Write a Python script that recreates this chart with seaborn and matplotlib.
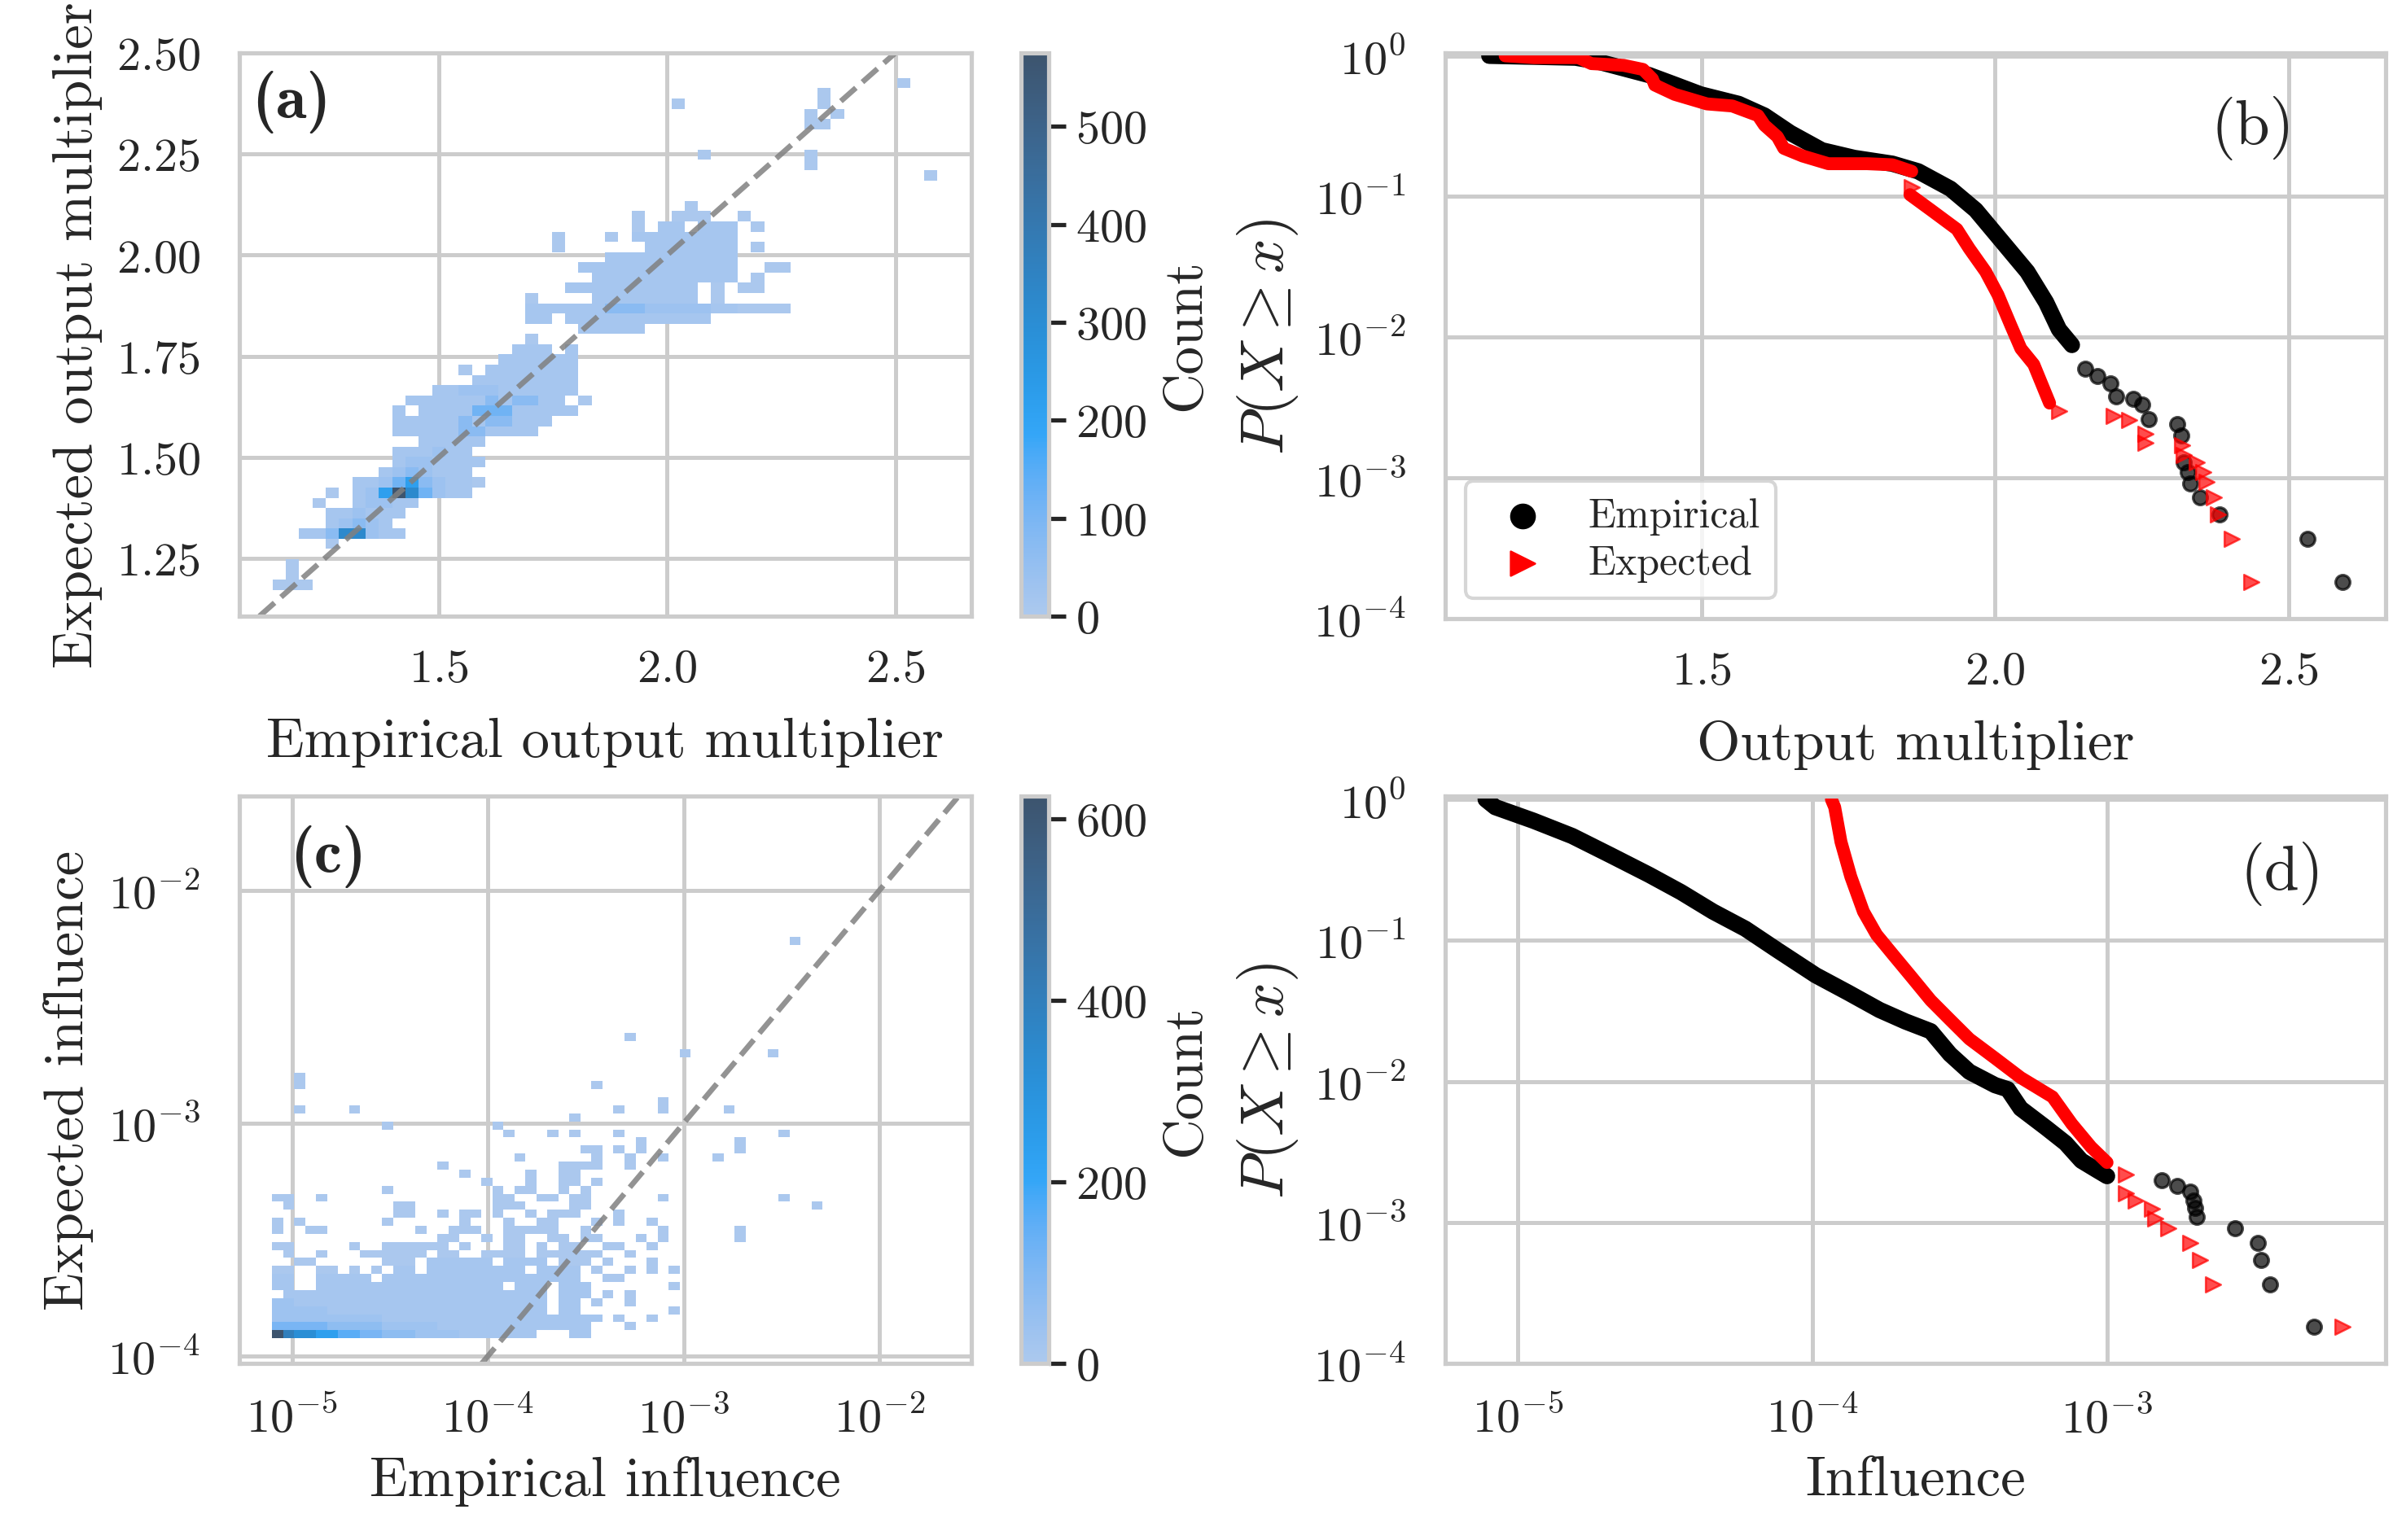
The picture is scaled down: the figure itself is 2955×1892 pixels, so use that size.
import numpy as np
import seaborn as sns
import matplotlib.pyplot as plt
from matplotlib.ticker import MultipleLocator

# ---------------- (a) 2d histogram of output multipliers ----------------
# bins: 50 x 50, counts coded per cell
a_x_start, a_x_step = 1.1364, 0.0291
a_y_start, a_y_step = 1.1727, 0.0253
a_nbins = 50
a_levels = {"a": 4, "b": 15, "c": 35, "d": 70, "e": 115, "g": 220, "h": 320, "M": 575}
# (row, first column, codes of consecutive cells)
a_runs = [
    (0, 0, "aaa"), (1, 1, "a"), (2, 1, "a"), (4, 4, "a"),
    (5, 2, "bbdhhcbb"), (6, 4, "bcdcb"), (7, 4, "bbcbbb"),
    (8, 3, "a"), (8, 6, "bccbb"),
    (9, 4, "a"), (9, 6, "bcgMhecbb"),
    (10, 6, "bbcegdcbba"), (11, 8, "bcdcbbb"), (12, 9, "bccbbbb"),
    (13, 9, "bbbcbb"), (14, 11, "bbbbb"), (15, 9, "bbbbbddbbbb"),
    (16, 9, "bbbbbdbddbbb"), (17, 9, "b"), (17, 11, "bbbbeeebbbbb"),
    (18, 10, "bbbbbbdbddbb"), (18, 23, "a"), (19, 12, "bbcccbbbbbb"),
    (20, 15, "bbbbbbbb"), (21, 14, "a"), (21, 16, "bbbbbbb"),
    (22, 17, "bbbbbb"), (23, 18, "bbb"), (23, 22, "b"), (24, 19, "a"),
    (25, 23, "bbbbb"), (26, 19, "bb"), (26, 22, "bbbbbbbbbbb"),
    (27, 19, "bbbbbbdddcccccbbaaaa"),
    (28, 19, "a"), (28, 24, "bbbbbbbb"), (28, 33, "a"),
    (29, 22, "bbbbbbbbbb"), (29, 33, "a"), (29, 35, "aa"),
    (30, 24, "bbbbbbbbbbb"), (30, 36, "a"),
    (31, 23, "bbbbbbbbbbbb"), (31, 37, "aa"),
    (32, 25, "bbbbbbbbbb"),
    (33, 21, "a"), (33, 28, "bbbbbbb"), (33, 36, "a"),
    (34, 21, "a"), (34, 25, "a"), (34, 27, "bbbbbbbb"),
    (35, 27, "a"), (35, 29, "bb"), (35, 32, "bbb"), (35, 36, "a"),
    (36, 27, "a"), (36, 30, "aaa"), (36, 35, "a"),
    (37, 31, "a"), (40, 49, "a"), (41, 40, "a"), (42, 32, "a"), (42, 40, "a"),
    (45, 40, "aa"), (46, 40, "a"), (46, 42, "a"), (47, 30, "a"), (47, 41, "a"),
    (48, 41, "a"), (49, 47, "a"),
]

# ---------------- (c) 2d histogram of influence (log10 bins) ----------------
c_x_start, c_x_step = -5.103, 0.05626
c_y_start, c_y_step = -3.924, 0.0345
c_nbins = 50
c_levels = {"a": 3, "b": 15, "c": 35, "d": 70, "e": 110, "f": 160, "g": 235,
            "h": 320, "i": 400, "M": 625}
c_runs = [
    (0, 0, "Mihhggffeedddccccbbbbbbb"), (0, 27, "bb"),
    (1, 0, "eeeeedddddcccccbbbbbbbbbbbbbb"), (1, 32, "a"),
    (2, 0, "ccccccccccbbbbbbbbbbbbbbbbbbbb"), (2, 31, "a"), (2, 34, "a"),
    (3, 0, "cccccbbbbbbbbbbbbbbbbbbbb"), (3, 26, "bb"), (3, 36, "a"),
    (4, 0, "ccbbbbbbbbbbbbbbbbbbbbbbb"), (4, 26, "bb"), (4, 29, "a"), (4, 32, "a"),
    (5, 1, "bbbbbbbbbbbbbbbbbbbbbbbb"), (5, 26, "bbb"), (5, 30, "a"), (5, 32, "a"),
    (6, 0, "bb"), (6, 4, "bbbbbbbbbbbbbbbbb"), (6, 22, "bbb"), (6, 26, "bbb"), (6, 36, "a"),
    (7, 0, "bb"), (7, 4, "bbbbb"), (7, 10, "bbbbbbbbbbbbbbbbbb"), (7, 30, "aa"),
    (8, 0, "aa"), (8, 4, "aa"), (8, 7, "a"), (8, 9, "a"), (8, 11, "bb"),
    (8, 14, "bbbbbbbbb"), (8, 24, "bbbb"), (8, 29, "a"), (8, 32, "a"), (8, 34, "a"), (8, 36, "a"),
    (9, 2, "aa"), (9, 10, "aaa"), (9, 14, "bbbbbb"), (9, 21, "bbbb"), (9, 26, "aaa"),
    (9, 30, "a"), (9, 34, "a"),
    (10, 1, "a"), (10, 4, "a"), (10, 8, "aaaaaa"), (10, 15, "aa"), (10, 19, "aaaa"),
    (10, 24, "aaaaaa"), (10, 32, "a"),
    (11, 0, "aa"), (11, 7, "a"), (11, 10, "aaaaaa"), (11, 17, "a"), (11, 21, "aa"),
    (11, 24, "a"), (11, 26, "aa"), (11, 30, "aa"), (11, 34, "a"),
    (12, 15, "aa"), (12, 19, "a"), (12, 21, "aa"), (12, 25, "aa"), (12, 28, "aa"),
    (12, 33, "a"), (12, 35, "a"), (12, 42, "a"),
    (13, 0, "a"), (13, 3, "aa"), (13, 13, "a"), (13, 16, "aaa"), (13, 21, "aaaaa"),
    (13, 28, "a"), (13, 35, "a"), (13, 42, "a"),
    (14, 0, "a"), (14, 2, "a"), (14, 10, "a"), (14, 17, "a"), (14, 21, "a"),
    (14, 24, "aa"), (14, 29, "a"), (14, 31, "a"), (14, 34, "a"),
    (15, 11, "aa"), (15, 15, "a"), (15, 17, "aa"), (15, 20, "a"), (15, 23, "a"),
    (15, 25, "aaa"), (15, 31, "a"),
    (16, 1, "a"), (16, 11, "aa"), (16, 20, "aaa"), (16, 27, "aa"), (16, 49, "a"),
    (17, 0, "aa"), (17, 4, "a"), (17, 20, "aa"), (17, 24, "aa"), (17, 27, "aa"),
    (17, 35, "a"), (17, 46, "a"),
    (18, 10, "a"), (18, 20, "a"), (18, 22, "aa"), (18, 26, "a"), (18, 28, "a"),
    (19, 19, "a"), (19, 23, "a"), (19, 26, "aa"), (19, 29, "a"),
    (20, 17, "a"), (20, 23, "a"), (20, 26, "aa"),
    (21, 15, "a"), (21, 26, "aaaa"), (21, 32, "a"),
    (22, 22, "a"), (22, 29, "a"), (22, 32, "a"), (22, 35, "a"), (22, 40, "a"),
    (23, 28, "aa"), (23, 31, "a"), (23, 33, "a"), (23, 42, "a"),
    (24, 33, "a"), (24, 42, "a"),
    (25, 21, "a"), (25, 25, "a"), (25, 27, "a"), (25, 31, "a"), (25, 46, "a"),
    (26, 10, "a"), (26, 20, "a"), (27, 27, "a"),
    (28, 2, "a"), (28, 7, "a"), (28, 31, "a"), (28, 35, "a"), (28, 41, "a"),
    (29, 35, "a"), (31, 2, "a"), (31, 29, "a"), (32, 2, "a"),
    (35, 37, "a"), (35, 45, "a"), (37, 32, "a"), (49, 47, "a"),
]

# ---------------- (b) CCDF of output multiplier ----------------
b_emp_x = [1.138, 1.285, 1.323, 1.41, 1.454, 1.498, 1.563, 1.607, 1.651, 1.705,
           1.760, 1.825, 1.869, 1.924, 1.967, 2.011, 2.055, 2.087, 2.109, 2.131]
b_emp_p = [1.0, 0.97, 0.91, 0.73, 0.624, 0.532, 0.455, 0.376, 0.283, 0.213,
           0.188, 0.171, 0.151, 0.1135, 0.0802, 0.0484, 0.0292, 0.0177, 0.01135, 0.0088]
b_emp_tail_x = [2.153, 2.175, 2.197, 2.207, 2.235, 2.251, 2.262, 2.311, 2.317, 2.322,
                2.328, 2.333, 2.349, 2.382, 2.532, 2.592]
b_emp_tail_p = [0.0060, 0.0053, 0.0047, 0.0038, 0.00365, 0.0033, 0.0026, 0.00242, 0.0020,
                0.00129, 0.0011, 0.00091, 0.00073, 0.00055, 0.00037, 0.000182]

b_exp_x1 = [1.165, 1.214, 1.29, 1.312, 1.367, 1.40, 1.416, 1.42, 1.454, 1.509,
            1.552, 1.596, 1.607, 1.629, 1.64, 1.672, 1.716, 1.782, 1.825, 1.858]
b_exp_p1 = [1.0, 0.97, 0.97, 0.88, 0.855, 0.80, 0.685, 0.62, 0.532, 0.455,
            0.44, 0.376, 0.321, 0.266, 0.22, 0.194, 0.171, 0.171, 0.168, 0.151]
b_exp_x2 = [1.855, 1.891, 1.935, 1.956, 1.984, 2.005, 2.027, 2.044, 2.066, 2.082, 2.093]
b_exp_p2 = [0.103, 0.080, 0.0585, 0.0427, 0.0292, 0.020, 0.0121, 0.0083, 0.0064, 0.0044, 0.0034]
b_exp_tail_x = [1.858, 2.109, 2.202, 2.229, 2.257, 2.257, 2.319, 2.322, 2.344, 2.355,
                2.36, 2.373, 2.38, 2.404, 2.437]
b_exp_tail_p = [0.117, 0.0030, 0.00274, 0.00258, 0.00207, 0.00177, 0.00171, 0.00146,
                0.00129, 0.0011, 0.00094, 0.00073, 0.00055, 0.00037, 0.000182]

# ---------------- (d) CCDF of influence ----------------
d_emp_x = [7.78e-6, 8.39e-6, 1.13e-5, 1.53e-5, 2.07e-5, 2.79e-5, 3.58e-5, 4.60e-5, 5.92e-5,
           7.59e-5, 1.026e-4, 1.32e-4, 1.69e-4, 2.07e-4, 2.52e-4, 2.93e-4, 3.41e-4, 4.17e-4,
           4.60e-4, 5.09e-4, 6.21e-4, 7.23e-4, 8.18e-4, 9.27e-4, 1.0e-3]
d_emp_p = [1.0, 0.881, 0.706, 0.55, 0.401, 0.292, 0.22, 0.160, 0.121, 0.0855, 0.0566,
           0.0427, 0.0321, 0.0266, 0.0227, 0.0156, 0.0117, 0.0094, 0.0088, 0.00643,
           0.00469, 0.00365, 0.00274, 0.00234, 0.00213]
d_emp_tail_x = [1.53e-3, 1.73e-3, 1.92e-3, 1.96e-3, 1.99e-3, 2.01e-3, 2.72e-3, 3.24e-3,
                3.33e-3, 3.58e-3, 5.04e-3]
d_emp_tail_p = [0.0020, 0.00182, 0.00166, 0.00142, 0.00126, 0.0011, 0.00091, 0.00072,
                0.00054, 0.000365, 0.000182]

d_exp_x = [1.16e-4, 1.19e-4, 1.25e-4, 1.35e-4, 1.49e-4, 1.65e-4, 1.87e-4, 2.17e-4, 2.52e-4,
           2.93e-4, 3.41e-4, 4.17e-4, 5.09e-4, 6.53e-4, 7.59e-4, 8.83e-4, 1.0e-3]
d_exp_p = [1.0, 0.881, 0.5, 0.283, 0.160, 0.11, 0.080, 0.055, 0.0376, 0.0274, 0.020,
           0.0146, 0.01064, 0.00776, 0.0050, 0.00342, 0.00266]
d_exp_tail_x = [1.16e-3, 1.16e-3, 1.25e-3, 1.42e-3, 1.46e-3, 1.61e-3, 1.92e-3, 2.07e-3,
                2.29e-3, 6.28e-3]
d_exp_tail_p = [0.0022, 0.0016, 0.00142, 0.00125, 0.00106, 0.00091, 0.00072, 0.00054,
                0.000365, 0.000182]


def expand_runs(runs, levels):
    cols, rows, counts = [], [], []
    for row, col0, codes in runs:
        for k, ch in enumerate(codes):
            cols.append(col0 + k)
            rows.append(row)
            counts.append(levels[ch])
    return np.array(cols), np.array(rows), np.array(counts, dtype=float)


sns.set_theme(style="whitegrid")
plt.rcParams.update({
    "font.family": "serif",
    "font.serif": ["cmr10"],
    "mathtext.fontset": "cm",
    "axes.formatter.use_mathtext": True,
    "axes.unicode_minus": False,
    "xtick.labelsize": 14,
    "ytick.labelsize": 14,
    "axes.labelsize": 16.5,
    "legend.fontsize": 12,
    "grid.linewidth": 1.2,
})
plt.rcParams["ytick.major.pad"] += 2

fig = plt.figure(figsize=(9.85, 6.31), dpi=300)
ax_a = fig.add_axes([0.0995, 0.5996, 0.3042, 0.3656])
cax_a = fig.add_axes([0.4244, 0.5996, 0.0115, 0.3656])
ax_b = fig.add_axes([0.6007, 0.5980, 0.3909, 0.3672])
ax_c = fig.add_axes([0.0995, 0.1146, 0.3042, 0.3680])
cax_c = fig.add_axes([0.4244, 0.1146, 0.0115, 0.3680])
ax_d = fig.add_axes([0.6007, 0.1146, 0.3909, 0.3680])

hist_color = "#1f77b4"
panel_size = 18.5

# ---- (a)
ci, ri, na = expand_runs(a_runs, a_levels)
a_xc = a_x_start + (ci + 0.5) * a_x_step
a_yc = a_y_start + (ri + 0.5) * a_y_step
sns.histplot(x=a_xc, y=a_yc, weights=na, ax=ax_a, color=hist_color,
             binwidth=(a_x_step, a_y_step),
             binrange=((a_x_start, a_x_start + a_nbins * a_x_step),
                       (a_y_start, a_y_start + a_nbins * a_y_step)),
             cbar=True, cbar_ax=cax_a, cbar_kws={"label": "Count"},
             vmin=0, vmax=a_levels["M"])
ax_a.set_xlim(1.064, 2.666)
ax_a.set_ylim(1.108, 2.50)
ax_a.axline((1.5, 1.5), (2.0, 2.0), ls="--", color="0.5", lw=1.6, alpha=0.85)
ax_a.xaxis.set_major_locator(MultipleLocator(0.5))
ax_a.yaxis.set_major_locator(MultipleLocator(0.25))
ax_a.set_xlabel("Empirical output multiplier", labelpad=8)
ax_a.set_ylabel("Expected output multiplier")
ax_a.text(0.017, 0.97, "(a)", transform=ax_a.transAxes, ha="left", va="top",
          fontsize=panel_size, family="cmb10")
cax_a.yaxis.set_major_locator(MultipleLocator(100))

# ---- (c)
ci, ri, nc = expand_runs(c_runs, c_levels)
c_xc = 10 ** (c_x_start + (ci + 0.5) * c_x_step)
c_yc = 10 ** (c_y_start + (ri + 0.5) * c_y_step)
sns.histplot(x=c_xc, y=c_yc, weights=nc, ax=ax_c, color=hist_color, log_scale=True,
             binwidth=(c_x_step, c_y_step),
             binrange=((c_x_start, c_x_start + c_nbins * c_x_step),
                       (c_y_start, c_y_start + c_nbins * c_y_step)),
             cbar=True, cbar_ax=cax_c, cbar_kws={"label": "Count"},
             vmin=0, vmax=c_levels["M"])
ax_c.set_xlim(10 ** -5.27, 10 ** -1.531)
ax_c.set_ylim(10 ** -4.032, 10 ** -1.597)
ax_c.axline((1e-4, 1e-4), (1e-3, 1e-3), ls="--", color="0.5", lw=1.6, alpha=0.85)
ax_c.set_xlabel("Empirical influence")
ax_c.set_ylabel("Expected influence")
ax_c.text(0.069, 0.95, "(c)", transform=ax_c.transAxes, ha="left", va="top",
          fontsize=panel_size, family="cmb10")
cax_c.yaxis.set_major_locator(MultipleLocator(200))

for cax in (cax_a, cax_c):
    cax.tick_params(pad=3, length=5)


# ---- (b) and (d)
def ccdf_panel(ax, emp, emp_tail, exp_segs, exp_tail):
    ax.set_yscale("log")
    sns.lineplot(x=emp[0], y=emp[1], ax=ax, color="black", lw=4.8,
                 sort=False, estimator=None)
    for seg in exp_segs:
        sns.lineplot(x=seg[0], y=seg[1], ax=ax, color="red", lw=3.8,
                     sort=False, estimator=None)
    sns.scatterplot(x=emp_tail[0], y=emp_tail[1], ax=ax, color="black", marker="o",
                    s=18, alpha=0.7, edgecolor="black", linewidth=0.8, label="Empirical")
    sns.scatterplot(x=exp_tail[0], y=exp_tail[1], ax=ax, color="red", marker=">",
                    s=20, alpha=0.7, edgecolor="red", linewidth=0.6, label="Expected")
    ax.set_ylim(1e-4, 1.05)
    ax.set_ylabel(r"$P(X \geq x)$", fontsize=18)


ccdf_panel(ax_b, (b_emp_x, b_emp_p), (b_emp_tail_x, b_emp_tail_p),
           [(b_exp_x1, b_exp_p1), (b_exp_x2, b_exp_p2)], (b_exp_tail_x, b_exp_tail_p))
ax_b.set_xlim(1.063, 2.666)
ax_b.xaxis.set_major_locator(MultipleLocator(0.5))
ax_b.set_xlabel("Output multiplier", labelpad=8)
ax_b.text(0.903, 0.925, "(b)", transform=ax_b.transAxes, ha="right", va="top",
          fontsize=panel_size)
leg = ax_b.legend(loc="lower left", markerscale=1.6, labelspacing=0.25, handletextpad=0.6)
for h in leg.legend_handles:
    h.set_alpha(1)

ccdf_panel(ax_d, (d_emp_x, d_emp_p), (d_emp_tail_x, d_emp_tail_p),
           [(d_exp_x, d_exp_p)], (d_exp_tail_x, d_exp_tail_p))
ax_d.set_xscale("log")
ax_d.set_xlim(10 ** -5.246, 10 ** -2.054)
ax_d.set_xlabel("Influence")
ax_d.text(0.934, 0.922, "(d)", transform=ax_d.transAxes, ha="right", va="top",
          fontsize=panel_size)
ax_d.get_legend().remove()

fig.savefig("out.png", dpi=300)
